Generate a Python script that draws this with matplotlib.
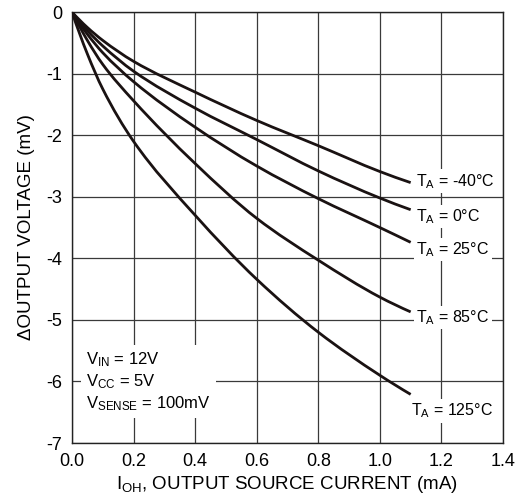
import matplotlib
matplotlib.use("Agg")
import matplotlib.pyplot as plt
import numpy as np
from matplotlib.path import Path
from matplotlib.patches import PathPatch

plt.rcParams['font.family'] = ['Liberation Sans', 'DejaVu Sans']
plt.rcParams['mathtext.fontset'] = 'custom'
plt.rcParams['mathtext.rm'] = 'Liberation Sans'
plt.rcParams['mathtext.it'] = 'Liberation Sans'
plt.rcParams['mathtext.default'] = 'regular'

# Output source current (mA)
current = [0.0, 0.05, 0.1, 0.2, 0.4, 0.6, 0.8, 1.0, 1.1]

# Change in output voltage (mV) at each ambient temperature
dv_m40 = [0.0, -0.25, -0.46, -0.80, -1.30, -1.76, -2.17, -2.59, -2.77]
dv_0 = [0.0, -0.30, -0.55, -0.96, -1.56, -2.07, -2.58, -3.02, -3.21]
dv_25 = [0.0, -0.36, -0.66, -1.13, -1.87, -2.50, -3.03, -3.50, -3.74]
dv_85 = [0.0, -0.46, -0.85, -1.44, -2.46, -3.35, -4.03, -4.63, -4.87]
dv_125 = [0.0, -0.68, -1.25, -2.10, -3.30, -4.34, -5.20, -5.90, -6.21]

series = [dv_m40, dv_0, dv_25, dv_85, dv_125]
labels = ["$T_A$ = -40°C", "$T_A$ = 0°C", "$T_A$ = 25°C",
          "$T_A$ = 85°C", "$T_A$ = 125°C"]
label_offsets = [(4, 1), (4, -5), (4, -5), (4, -4), (0, -12)]

x_ticks = [0.0, 0.2, 0.4, 0.6, 0.8, 1.0, 1.2, 1.4]
x_ticklabels = ["0.0", "0.2", "0.4", "0.6", "0.8", "1.0", "1.2", "1.4"]
y_ticks = [0, -1, -2, -3, -4, -5, -6, -7]
y_ticklabels = ["0", "-1", "-2", "-3", "-4", "-5", "-6", "-7"]

conditions = "$V_{IN}$ = 12V\n$V_{CC}$ = 5V\n$V_{SENSE}$ = 100mV"


def smooth_path(xs, ys):
    """Monotone cubic Hermite curve through the points, as Bezier segments."""
    x = np.asarray(xs, float)
    y = np.asarray(ys, float)
    h = np.diff(x)
    d = np.diff(y) / h
    n = len(x)
    m = np.zeros(n)
    for k in range(1, n - 1):
        if d[k - 1] * d[k] > 0:
            w1 = 2 * h[k] + h[k - 1]
            w2 = h[k] + 2 * h[k - 1]
            m[k] = (w1 + w2) / (w1 / d[k - 1] + w2 / d[k])
    m[0] = ((2 * h[0] + h[1]) * d[0] - h[0] * d[1]) / (h[0] + h[1])
    if m[0] * d[0] <= 0:
        m[0] = 0
    elif abs(m[0]) > 3 * abs(d[0]):
        m[0] = 3 * d[0]
    m[-1] = ((2 * h[-1] + h[-2]) * d[-1] - h[-1] * d[-2]) / (h[-1] + h[-2])
    if m[-1] * d[-1] <= 0:
        m[-1] = 0
    elif abs(m[-1]) > 3 * abs(d[-1]):
        m[-1] = 3 * d[-1]
    verts = [(x[0], y[0])]
    codes = [Path.MOVETO]
    for k in range(n - 1):
        verts += [(x[k] + h[k] / 3, y[k] + m[k] * h[k] / 3),
                  (x[k + 1] - h[k] / 3, y[k + 1] - m[k + 1] * h[k] / 3),
                  (x[k + 1], y[k + 1])]
        codes += [Path.CURVE4] * 3
    return Path(verts, codes)


fig = plt.figure(figsize=(5.27, 5.04), dpi=100)
ax = fig.add_axes([0.1366, 0.121, 0.8179, 0.855])

ax.set_xlim(0.0, 1.4)
ax.set_ylim(-7, 0)
ax.set_xticks(x_ticks)
ax.set_xticklabels(x_ticklabels)
ax.set_yticks(y_ticks)
ax.set_yticklabels(y_ticklabels)
ax.tick_params(length=0, labelsize=13, pad=7, colors='black')
ax.grid(True, color='#3a3a3a', linewidth=0.9)
ax.set_axisbelow(True)
for sp in ax.spines.values():
    sp.set_color('#222222')
    sp.set_linewidth(1.0)

for vals, lab, off in zip(series, labels, label_offsets):
    ax.add_patch(PathPatch(smooth_path(current, vals), fc='none',
                           ec='#1a1212', lw=2.0, zorder=3,
                           transform=ax.transData))
    ax.annotate(lab, xy=(current[-1], vals[-1]), xytext=off,
                textcoords='offset points', ha='left', va='center',
                fontsize=11.5, zorder=4,
                bbox=dict(boxstyle='square,pad=0.15', fc='white', ec='none'))

ax.text(0.045, -6.0, conditions, fontsize=12, ha='left', va='center',
        linespacing=1.25, zorder=4,
        bbox=dict(boxstyle='square,pad=0.3', fc='white', ec='none'))

ax.set_xlabel("$I_{OH}$, OUTPUT SOURCE CURRENT (mA)", fontsize=13.5, labelpad=3)
ax.set_ylabel("ΔOUTPUT VOLTAGE (mV)", fontsize=13.5, labelpad=8)

fig.savefig("out.png", dpi=100)
